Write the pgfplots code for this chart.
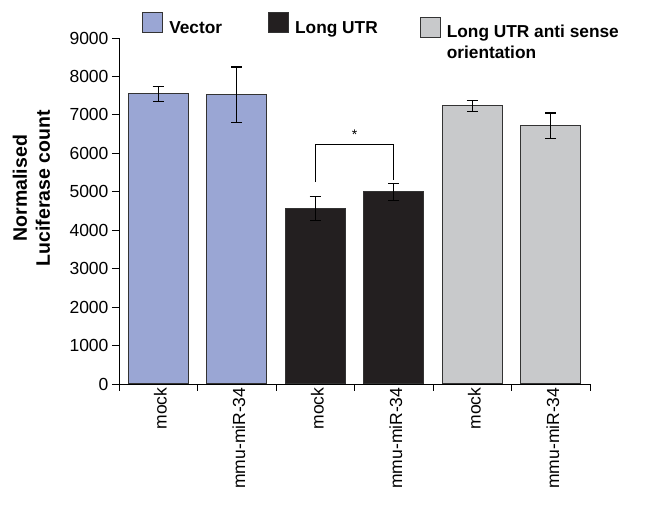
\documentclass[border=0pt]{standalone}
\usepackage{fontspec}
\setmainfont{Liberation Sans}
\usepackage{pgfplots}
\pgfplotsset{compat=1.18}
\pgfplotsset{lowbox/.style={legend image code/.code={\draw[##1] (0pt,-9pt) rectangle (20pt,11pt);}}}
\definecolor{vec}{RGB}{154,166,212}
\definecolor{lutr}{RGB}{35,31,32}
\definecolor{anti}{RGB}{200,201,203}
\begin{document}
\begin{tikzpicture}[font=\fontsize{17.5}{21}\selectfont]
\useasboundingbox (-119pt,-121pt) rectangle (529pt,384pt);
\begin{axis}[
 at={(0,0)}, anchor=south west,
 scale only axis, width=471pt, height=346pt,
 xmin=-0.5, xmax=5.5, ymin=0, ymax=9000,
 axis lines*=left, axis line style={-, line width=0.9pt},
 ytick={0,1000,...,9000},
 xtick={-0.5,0.5,...,5.5}, xticklabels={},
 extra x ticks={0,1,2,3,4,5},
 extra x tick labels={mock,mmu-miR-34,mock,mmu-miR-34,mock,mmu-miR-34},
 extra x tick style={major tick length=0pt, tick label style={rotate=90, anchor=east, yshift=-2pt}},
 tick align=outside, major tick length=7pt,
 tick style={black, line width=0.9pt},
 /pgf/number format/1000 sep={}, /pgf/number format/assume math mode=true,
 ylabel={Normalised\\Luciferase count},
 ylabel style={font=\bfseries\fontsize{19.5}{23}\selectfont, align=center, at={(axis description cs:-0.186,0.566)}, anchor=center},
 ybar, bar width=0.765, bar shift=0pt,
 error bars/y dir=both, error bars/y explicit,
 error bars/error bar style={black, line width=1.1pt},
 error bars/error mark options={rotate=90, mark size=5.5pt, black, line width=1.1pt},
 legend columns=3,
 legend cell align=left,
 legend style={draw=none, fill=none, inner sep=0pt, at={(axis description cs:0.049,1.075)}, anchor=north west,
   font=\bfseries\fontsize{17.3}{21}\selectfont,
   /tikz/column 2/.style={column sep=44pt},
   /tikz/column 4/.style={column sep=40pt},
   /tikz/column 1/.style={column sep=4pt},
   /tikz/column 3/.style={column sep=4pt},
   /tikz/column 5/.style={column sep=4pt}},
 legend image code/.code={\draw[#1] (0pt,-4pt) rectangle (20pt,16pt);},
]
\addplot[fill=vec, draw=black!80, line width=1pt] coordinates {(0,7550) +- (0,200) (1,7525) +- (0,720)};
\addlegendentry{Vector}
\addplot[fill=lutr, draw=black!80, line width=1pt] coordinates {(2,4560) +- (0,310) (3,4995) +- (0,215)};
\addlegendentry{Long UTR}
\addplot[fill=anti, draw=black!80, line width=1pt, lowbox] coordinates {(4,7235) +- (0,145) (5,6720) +- (0,330)};
\addlegendentry{\raisebox{-4pt}{\begin{tabular}[t]{@{}l@{}}Long UTR anti sense\\orientation\end{tabular}}}
\addplot[sharp plot, black, line width=0.9pt, forget plot, no marks] coordinates {(2,5250) (2,6240) (3,6240) (3,5300)};
\node[font=\fontsize{14}{14}\selectfont] at (axis cs:2.5,6480) {*};
\end{axis}
\end{tikzpicture}
\end{document}
